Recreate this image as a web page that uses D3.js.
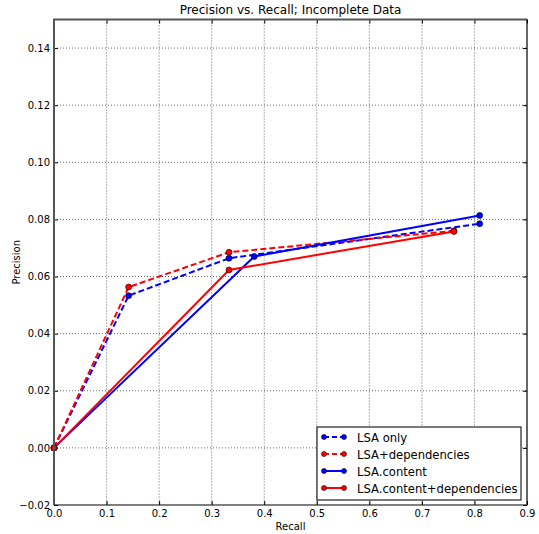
<!DOCTYPE html>
<html>
<head>
<meta charset="utf-8">
<script src="https://cdn.jsdelivr.net/npm/d3@7"></script>
<style>
  body { margin: 0; background: #fff; }
  svg text { font-family: "DejaVu Sans", sans-serif; }
</style>
</head>
<body>
<div class="chart"></div>
<script>
// data
var xTicks = [0.0, 0.1, 0.2, 0.3, 0.4, 0.5, 0.6, 0.7, 0.8, 0.9];
var yTicks = [-0.02, 0.00, 0.02, 0.04, 0.06, 0.08, 0.10, 0.12, 0.14];

var seriesNames = ["LSA only", "LSA+dependencies", "LSA.content", "LSA.content+dependencies"];
var seriesColors = ["#0000ff", "#ff0000", "#0000ff", "#ff0000"];
var seriesDashed = [true, true, false, false];

var lsaOnlyRecall = [0.0, 0.142, 0.333, 0.810];
var lsaOnlyPrecision = [0.0, 0.0533, 0.0664, 0.0785];
var lsaDepRecall = [0.0, 0.142, 0.333, 0.761];
var lsaDepPrecision = [0.0, 0.0563, 0.0685, 0.0760];
var contentRecall = [0.0, 0.381, 0.810];
var contentPrecision = [0.0, 0.0670, 0.0814];
var contentDepRecall = [0.0, 0.333, 0.761];
var contentDepPrecision = [0.0, 0.0623, 0.0758];

var seriesRecall = [lsaOnlyRecall, lsaDepRecall, contentRecall, contentDepRecall];
var seriesPrecision = [lsaOnlyPrecision, lsaDepPrecision, contentPrecision, contentDepPrecision];

var margin = {top: 19.5, right: 12, bottom: 29, left: 54},
    viewbox_width = 539,
    viewbox_height = 534,
    width = viewbox_width - margin.left - margin.right,
    height = viewbox_height - margin.top - margin.bottom;

var xScale = d3.scaleLinear().domain([0, 0.9]).range([0, width]),
    yScale = d3.scaleLinear().domain([-0.02, 0.15]).range([height, 0]);

var viewbox = d3.select(".chart").append("svg")
    .attr("width", viewbox_width)
    .attr("height", viewbox_height);

var svg = viewbox.append("g")
    .attr("transform", "translate(" + margin.left + "," + margin.top + ")");

// grid
svg.append("g").selectAll("line").data(xTicks.slice(1, -1)).enter().append("line")
    .attr("x1", function(d) { return xScale(d); })
    .attr("x2", function(d) { return xScale(d); })
    .attr("y1", 0).attr("y2", height)
    .attr("stroke", "#000").attr("stroke-width", 0.6)
    .attr("stroke-dasharray", "1,2");
svg.append("g").selectAll("line").data(yTicks.slice(1)).enter().append("line")
    .attr("y1", function(d) { return yScale(d); })
    .attr("y2", function(d) { return yScale(d); })
    .attr("x1", 0).attr("x2", width)
    .attr("stroke", "#000").attr("stroke-width", 0.6)
    .attr("stroke-dasharray", "1,2");

// axes, ticks pointing inward like old matplotlib
var xAxis = d3.axisBottom(xScale).tickValues(xTicks).tickFormat(d3.format(".1f"))
    .tickSizeInner(-4).tickSizeOuter(0).tickPadding(5);
var yAxis = d3.axisLeft(yScale).tickValues(yTicks)
    .tickFormat(function(d) { return d3.format(".2f")(d).replace("-", "\u2212"); })
    .tickSizeInner(-4).tickSizeOuter(0).tickPadding(4);
var yAxisR = d3.axisRight(yScale).tickValues(yTicks).tickFormat("")
    .tickSizeInner(-4).tickSizeOuter(0);
var xAxisT = d3.axisTop(xScale).tickValues(xTicks).tickFormat("")
    .tickSizeInner(-4).tickSizeOuter(0);

function styleAxis(g) {
    g.select(".domain").remove();
    g.selectAll("text").attr("font-size", 10).attr("fill", "#000")
        .style("font-family", "DejaVu Sans, sans-serif");
    g.selectAll(".tick line").attr("stroke", "#000");
}
svg.append("g").attr("transform", "translate(0," + height + ")").call(xAxis).call(styleAxis);
svg.append("g").call(yAxis).call(styleAxis);
svg.append("g").attr("transform", "translate(" + width + ",0)").call(yAxisR).call(styleAxis);
svg.append("g").call(xAxisT).call(styleAxis);

// lines
var line = d3.line()
    .x(function(d) { return xScale(d[0]); })
    .y(function(d) { return yScale(d[1]); });

seriesNames.forEach(function(name, i) {
    var pts = seriesRecall[i].map(function(r, j) { return [r, seriesPrecision[i][j]]; });
    svg.append("path")
        .datum(pts)
        .attr("d", line)
        .attr("fill", "none")
        .attr("stroke", seriesColors[i])
        .attr("stroke-width", 2)
        .attr("stroke-dasharray", seriesDashed[i] ? "6,3" : null);
});
seriesNames.forEach(function(name, i) {
    var pts = seriesRecall[i].map(function(r, j) { return [r, seriesPrecision[i][j]]; });
    svg.append("g").selectAll("circle").data(pts).enter().append("circle")
        .attr("cx", function(d) { return xScale(d[0]); })
        .attr("cy", function(d) { return yScale(d[1]); })
        .attr("r", 3)
        .attr("fill", seriesColors[i])
        .attr("stroke", "#000")
        .attr("stroke-width", 0.6);
});

// frame: left/top drawn grey and heavier, right/bottom black
svg.append("path")
    .attr("d", "M0," + height + "V0H" + width)
    .attr("fill", "none").attr("stroke", "#555").attr("stroke-width", 2);
svg.append("path")
    .attr("d", "M" + width + ",0V" + height + "H0")
    .attr("fill", "none").attr("stroke", "#000").attr("stroke-width", 1.2);

// title and labels
svg.append("text")
    .attr("x", width / 2).attr("y", -6)
    .attr("text-anchor", "middle").attr("font-size", 12)
    .text("Precision vs. Recall; Incomplete Data");
svg.append("text")
    .attr("x", width / 2).attr("y", height + 25)
    .attr("text-anchor", "middle").attr("font-size", 10)
    .text("Recall");
viewbox.append("text")
    .attr("transform", "translate(20," + (margin.top + height / 2) + ")rotate(-90)")
    .attr("text-anchor", "middle").attr("font-size", 10)
    .text("Precision");

// legend
var legend = viewbox.append("g").attr("transform", "translate(317,427)");
legend.append("rect")
    .attr("width", 204).attr("height", 73)
    .attr("fill", "#fff").attr("stroke", "#222").attr("stroke-width", 1.2);
seriesNames.forEach(function(name, i) {
    var y = 10 + i * 17;
    var row = legend.append("g");
    row.append("line")
        .attr("x1", 7).attr("x2", 27).attr("y1", y).attr("y2", y)
        .attr("stroke", seriesColors[i]).attr("stroke-width", 2)
        .attr("stroke-dasharray", seriesDashed[i] ? "5,3" : null);
    [7, 27].forEach(function(cx) {
        row.append("circle").attr("cx", cx).attr("cy", y).attr("r", 2.5)
            .attr("fill", seriesColors[i]).attr("stroke", "#000").attr("stroke-width", 0.6);
    });
    row.append("text")
        .attr("x", 40).attr("y", y + 4.5)
        .attr("font-size", 11.6)
        .text(name);
});
</script>
</body>
</html>
